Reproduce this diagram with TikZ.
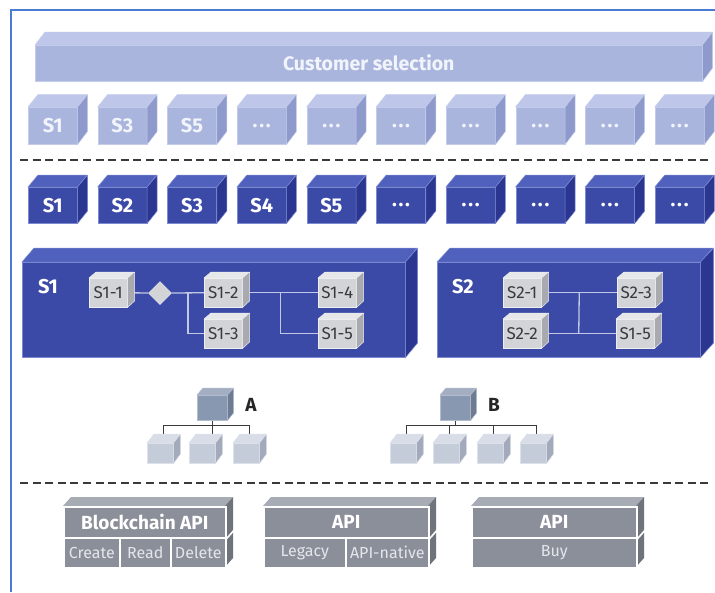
\documentclass[tikz,border=0pt]{standalone}
\usepackage{fontspec}
\setmainfont{Fira Sans}
\usetikzlibrary{shapes.geometric,calc}

% colour schemes: front / top / side / edge / text
\definecolor{lfront}{HTML}{AAB5DE}
\definecolor{ltop}{HTML}{BEC7E9}
\definecolor{lside}{HTML}{8D9ACB}
\definecolor{ledge}{HTML}{C4CCEC}
\definecolor{ltext}{HTML}{F2F4FB}
\definecolor{dfront}{HTML}{3C4AA7}
\definecolor{dtop}{HTML}{5061BD}
\definecolor{dside}{HTML}{2A368F}
\definecolor{dedge}{HTML}{7D8AD2}
\definecolor{gfront}{HTML}{D3D4D7}
\definecolor{gtop}{HTML}{E6E7E9}
\definecolor{gside}{HTML}{A9AAAF}
\definecolor{gedge}{HTML}{EEEEF0}
\definecolor{gtext}{HTML}{3A3A3E}
\definecolor{tfront}{HTML}{8898B0}
\definecolor{ttop}{HTML}{A3AEC3}
\definecolor{tside}{HTML}{6D7B93}
\definecolor{tedge}{HTML}{B4BDCD}
\definecolor{cfront}{HTML}{C4CBD9}
\definecolor{ctop}{HTML}{D8DDE7}
\definecolor{cside}{HTML}{A3AABB}
\definecolor{cedge}{HTML}{DDE1EA}
\definecolor{afront}{HTML}{8B8F99}
\definecolor{atop}{HTML}{A7ABB3}
\definecolor{aside}{HTML}{6F737C}
\definecolor{atext}{HTML}{E4E6EC}
\definecolor{linkcol}{HTML}{C3C8E6}
\definecolor{framecol}{HTML}{4A7BD0}
\definecolor{dashcol}{HTML}{3A3A3C}

\pgfdeclarelayer{boxes}
\pgfdeclarelayer{links}
\pgfsetlayers{boxes,links,main}

\newcommand\gap{.\kern1.8pt.\kern1.8pt.}

% \cubeat{name}{x}{y}{width}{height}{depth x}{depth y}{scheme}{text}
% (x,y) is the upper left corner of the front face
\newcommand\cubeat[9]{%
  \node[#8face, anchor=north west, inner sep=0pt,
        minimum width=#4pt, minimum height=#5pt] (#1) at (#2,#3) {#9};
  \filldraw[fill=#8top, draw=#8edge, line width=0.5pt, line join=round]
    (#1.north west) -- ++(#6,-#7) -- ++(#4,0) -- (#1.north east) -- cycle;
  \filldraw[fill=#8side, draw=#8edge, line width=0.5pt, line join=round]
    (#1.north east) -- ++(#6,-#7) -- ++(0,#5) -- (#1.south east) -- cycle;
  \coordinate (#1-top) at ($(#1.north)+(#6/2,-#7/2)$);
}

\begin{document}
\begin{tikzpicture}[x=1pt,y=-1pt,
  lface/.style={fill=lfront, draw=ledge, line width=0.5pt, text=ltext,
    font=\fontsize{20}{20}\selectfont\bfseries},
  dface/.style={fill=dfront, draw=dedge, line width=0.5pt, text=white,
    font=\fontsize{20}{20}\selectfont\bfseries},
  gface/.style={fill=gfront, draw=gedge, line width=0.5pt, text=gtext,
    font=\fontsize{17}{17}\selectfont},
  tface/.style={fill=tfront, draw=tedge, line width=0.5pt},
  cface/.style={fill=cfront, draw=cedge, line width=0.5pt},
  link/.style={draw=linkcol, line width=1.3pt},
  treelink/.style={draw=dashcol, line width=1.3pt},
  divider/.style={draw=dashcol, line width=2.3pt, dash pattern=on 8pt off 4.6pt},
  boxlabel/.style={text=white, font=\fontsize{20}{20}\selectfont\bfseries},
  treelabel/.style={text=black!85, font=\fontsize{19}{19}\selectfont\bfseries},
  apihead/.style={fill=afront, draw=white, line width=1.6pt, inner sep=0pt,
    anchor=north west, text=white, font=\fontsize{19}{19}\selectfont\bfseries},
  apicell/.style={fill=afront, draw=white, line width=1.6pt, inner sep=0pt,
    anchor=north west, text=atext, font=\fontsize{16}{16}\selectfont},
  apitop/.style={fill=atop},
  apiside/.style={fill=aside},
]
\useasboundingbox (0,0) rectangle (715,592);
\begin{pgfonlayer}{boxes}
  \fill[white] (0,0) rectangle (715,592);
\end{pgfonlayer}

% frame
\coordinate (fb) at (11,592);
\coordinate (fc) at (11,10);
\coordinate (fr) at (715,10);
\draw[framecol, line width=1.3pt] (fb) -- (fc) -- (fr);

% customer selection bar
\cubeat{cust}{35}{45}{667}{36}{10}{13}{l}{\fontsize{19.5}{19.5}\selectfont Customer selection}

% selected services
\foreach \i/\t in {0/S1,1/S3,2/S5,3/\gap,4/\gap,5/\gap,6/\gap,7/\gap,8/\gap,9/\gap}{
  \pgfmathsetmacro\xx{28+69.65*\i}
  \cubeat{lc\i}{\xx}{107}{49}{37}{10}{12.5}{l}{\t}
}

% separator lines
\coordinate (d1a) at (20,160);
\coordinate (d1b) at (712,160);
\draw[divider] (d1a) -- (d1b);

% all services
\foreach \i/\t in {0/S1,1/S2,2/S3,3/S4,4/S5,5/\gap,6/\gap,7/\gap,8/\gap,9/\gap}{
  \pgfmathsetmacro\xx{28+69.65*\i}
  \cubeat{dc\i}{\xx}{187}{49}{36}{10}{12}{d}{\t}
}

% composite services
\begin{pgfonlayer}{boxes}
  \cubeat{bigA}{22}{262}{383}{95}{12}{14}{d}{}
  \cubeat{bigB}{437}{262}{263}{95}{13}{14}{d}{}
\end{pgfonlayer}
\node[boxlabel] (labA) at (48,287) {S1};
\node[boxlabel] (labB) at (463,287) {S2};

\cubeat{s11}{89}{278}{38}{29}{7}{6}{g}{S1-1}
\cubeat{s12}{204}{278}{38}{29}{7}{6}{g}{S1-2}
\cubeat{s13}{204}{319}{38}{29}{7}{6}{g}{S1-3}
\cubeat{s14}{318}{278}{38}{29}{7}{6}{g}{S1-4}
\cubeat{s15}{318}{319}{38}{29}{7}{6}{g}{S1-5}
\node[diamond, fill=gfront, draw=gedge, line width=0.5pt, inner sep=0pt,
      minimum width=23pt, minimum height=23pt] (dia) at (160,293) {};

\cubeat{s21}{503}{278}{38}{29}{7}{6}{g}{S2-1}
\cubeat{s22}{503}{319}{38}{29}{7}{6}{g}{S2-2}
\cubeat{s23}{617}{278}{38}{29}{7}{6}{g}{S2-3}
\cubeat{s25}{616}{319}{38}{29}{7}{6}{g}{S1-5}

\begin{pgfonlayer}{links}
  \draw[link] (s11.east) -- (dia.west);
  \draw[link] (dia.east) -- (s12.west);
  \draw[link] ($(dia.east)!0.5!(s12.west)$) |- (s13.west);
  \draw[link] (s12.east) -- (s14.west);
  \draw[link] ($(s12.east)!0.5!(s14.west)$) |- (s15.west);
  \draw[link] (s21.east) -- (s23.west);
  \draw[link] (s22.east) -- (s25.west);
  \draw[link] ($(s21.east)!0.5!(s23.west)$) -- ($(s22.east)!0.5!(s25.west)$);
\end{pgfonlayer}

% hierarchies A and B
\cubeat{ta}{197}{395}{30}{25}{6}{7}{t}{}
\cubeat{a1}{147}{443}{26}{20}{7}{9}{c}{}
\cubeat{a2}{189}{443}{26}{20}{7}{9}{c}{}
\cubeat{a3}{233}{443}{26}{20}{7}{9}{c}{}
\node[treelabel] (labTA) at (251,405) {A};

\cubeat{tb}{440}{395}{30}{25}{6}{7}{t}{}
\cubeat{b1}{390}{443}{26}{20}{7}{9}{c}{}
\cubeat{b2}{433}{443}{26}{20}{7}{9}{c}{}
\cubeat{b3}{477}{443}{26}{20}{7}{9}{c}{}
\cubeat{b4}{520}{443}{26}{20}{7}{9}{c}{}
\node[treelabel] (labTB) at (494,405) {B};

\begin{pgfonlayer}{links}
  \draw[treelink] (ta.south) -- ++(0,5) coordinate (abus);
  \draw[treelink] (a1-top) |- (abus) -| (a3-top);
  \draw[treelink] (abus) -- (abus |- a2-top);
  \draw[treelink] (tb.south) -- ++(0,5) coordinate (bbus);
  \draw[treelink] (b1-top) |- (bbus) -| (b4-top);
  \draw[treelink] (b2-top) -- (b2-top |- bbus);
  \draw[treelink] (b3-top) -- (b3-top |- bbus);
\end{pgfonlayer}

\coordinate (d2a) at (20,483);
\coordinate (d2b) at (712,483);
\draw[divider] (d2a) -- (d2b);

% API layer
% Blockchain API
\fill[apitop] (63,506) -- ++(8,-9) -- ++(162,0) -- ++(-8,9) -- cycle;
\fill[apiside] (225,506) -- ++(8,-9) -- ++(0,61) -- ++(-8,9) -- cycle;
\node[apihead, minimum width=162pt, minimum height=31pt] (bh) at (63,506) {Blockchain API};
\node[apicell, minimum width=56pt, minimum height=30pt] (bc1) at (63,537) {Create};
\node[apicell, minimum width=51pt, minimum height=30pt] (bc2) at (119,537) {Read};
\node[apicell, minimum width=55pt, minimum height=30pt] (bc3) at (170,537) {Delete};
\draw[white, line width=1.6pt] (bh.south east) -- ++(8,-9);

% API with legacy / native parts
\fill[apitop] (263,506) -- ++(8,-9) -- ++(165,0) -- ++(-8,9) -- cycle;
\fill[apiside] (428,506) -- ++(8,-9) -- ++(0,61) -- ++(-8,9) -- cycle;
\node[apihead, minimum width=165pt, minimum height=31pt] (ah) at (263,506) {API};
\node[apicell, minimum width=82pt, minimum height=30pt] (ac1) at (263,537) {Legacy};
\node[apicell, minimum width=83pt, minimum height=30pt] (ac2) at (345,537) {API-native};
\draw[white, line width=1.6pt] (ah.south east) -- ++(8,-9);

% API for buying
\fill[apitop] (471,506) -- ++(8,-9) -- ++(165,0) -- ++(-8,9) -- cycle;
\fill[apiside] (636,506) -- ++(8,-9) -- ++(0,61) -- ++(-8,9) -- cycle;
\node[apihead, minimum width=165pt, minimum height=31pt] (uh) at (471,506) {API};
\node[apicell, minimum width=165pt, minimum height=30pt] (uc1) at (471,537) {Buy};
\draw[white, line width=1.6pt] (uh.south east) -- ++(8,-9);
\end{tikzpicture}
\end{document}
